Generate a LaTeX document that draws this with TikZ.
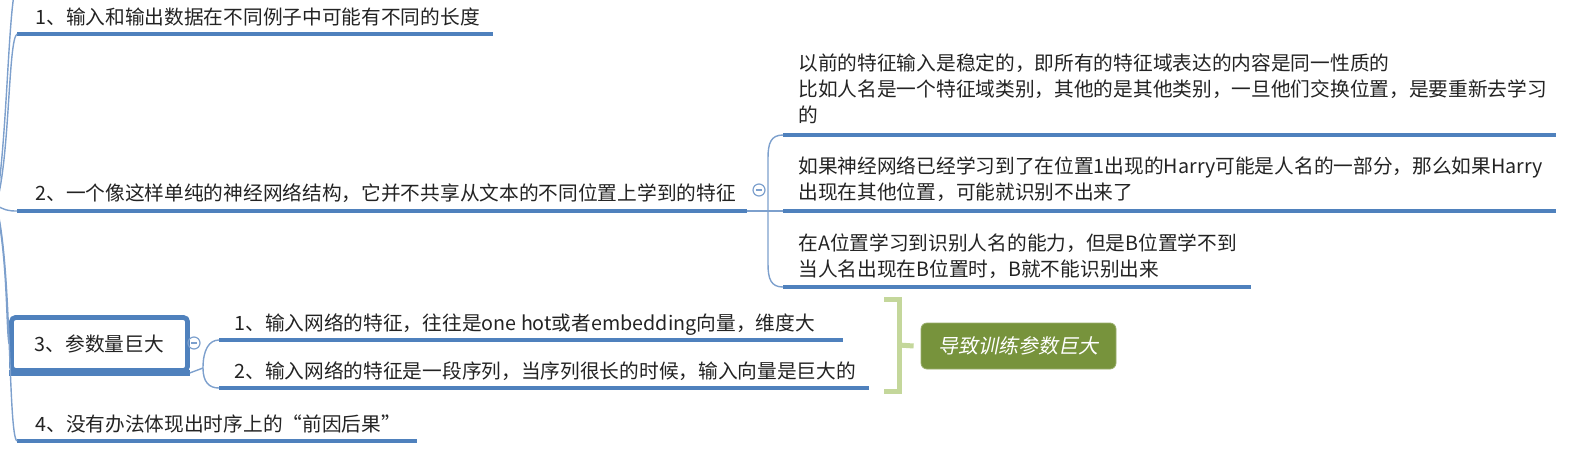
\documentclass[tikz,border=0pt]{standalone}
\usepackage{fontspec}
\setmainfont{Noto Sans CJK SC}
\newfontfamily\slantfont[FakeSlant=0.2]{Noto Sans CJK SC}
\definecolor{lineblue}{RGB}{79,129,189}
\definecolor{linklight}{RGB}{125,160,205}
\definecolor{bracegreen}{RGB}{196,215,155}
\definecolor{boxgreen}{RGB}{119,147,60}
\definecolor{inktext}{RGB}{35,35,35}
\begin{document}
\begin{tikzpicture}[x=0.5pt,y=-0.5pt,
  topic/.style={anchor=west, inner sep=0pt, font=\fontsize{9.85}{13}\selectfont, text=inktext, align=left},
  uline/.style={draw=lineblue, line width=2pt},
  link/.style={draw=linklight, line width=0.7pt},
  brace/.style={draw=bracegreen, line width=2.5pt},
  fold/.style={circle, draw=linklight, line width=0.6pt, minimum size=6pt, inner sep=0pt,
    path picture={\draw[linklight, line width=0.6pt]
      ([xshift=-1.5pt]path picture bounding box.center) -- ([xshift=1.5pt]path picture bounding box.center);}}]
  \useasboundingbox (0,0) rectangle (1584,450);
  \clip (0,0) rectangle (1584,450);

  % main topics
  \node[topic] (t1) at (35,17) {1、输入和输出数据在不同例子中可能有不同的长度};
  \node[topic] (t2) at (35,193) {2、一个像这样单纯的神经网络结构，它并不共享从文本的不同位置上学到的特征};
  \node[draw=lineblue, line width=2.4pt, rounded corners=2pt, minimum width=88pt, minimum height=26.5pt,
    inner sep=0pt, font=\fontsize{9.85}{13}\selectfont, text=inktext] (t3) at (99.5,344) {3、参数量巨大};
  \node[topic] (t4) at (35,424) {4、没有办法体现出时序上的“前因后果”};

  % children of topic 2
  \node[topic] (c1) at (798,89) {以前的特征输入是稳定的，即所有的特征域表达的内容是同一性质的\\
    比如人名是一个特征域类别，其他的是其他类别，一旦他们交换位置，是要重新去学习\\的};
  \node[topic] (c2) at (798,179) {如果神经网络已经学习到了在位置1出现的Harry可能是人名的一部分，那么如果Harry\\
    出现在其他位置，可能就识别不出来了};
  \node[topic] (c3) at (798,256) {在A位置学习到识别人名的能力，但是B位置学不到\\当人名出现在B位置时，B就不能识别出来};

  % children of topic 3
  \node[topic] (s1) at (234,325) {1、输入网络的特征，往往是one hot或者embedding向量，维度大};
  \node[topic] (s2) at (234,371) {2、输入网络的特征是一段序列，当序列很长的时候，输入向量是巨大的};

  % summary
  \node[fill=boxgreen, draw=boxgreen!75!white, rounded corners=3pt, minimum width=97.5pt, minimum height=23pt,
    inner sep=0pt, text=white, font=\slantfont\fontsize{10}{12}\selectfont] (res) at (1018.5,346) {导致训练参数巨大};

  % fold markers
  \node[fold] (f2) at (759,190) {};
  \node[fold] (f3) at (194,343) {};

  % underline ends
  \coordinate (u1a) at (17,34);   \coordinate (u1b) at (493,34);
  \coordinate (u2a) at (17,211);  \coordinate (u2b) at (747,211);
  \coordinate (v1a) at (783,135); \coordinate (v1b) at (1556,135);
  \coordinate (v2a) at (783,211); \coordinate (v2b) at (1556,211);
  \coordinate (v3a) at (783,287); \coordinate (v3b) at (1251,287);
  \coordinate (w1a) at (219,340); \coordinate (w1b) at (843,340);
  \coordinate (w2a) at (219,388); \coordinate (w2b) at (869,388);
  \coordinate (u4a) at (17,441);  \coordinate (u4b) at (417,441);
  \foreach \a/\b in {u1a/u1b,u2a/u2b,v1a/v1b,v2a/v2b,v3a/v3b,w1a/w1b,w2a/w2b,u4a/u4b}
    \draw[uline] (\a) -- (\b);
  \draw[uline, line width=2.8pt] (t3.south west) -- (t3.south east);

  % spine from the root (off the left edge)
  \coordinate (root) at (-4,205);
  \draw[link] (root) .. controls (6,150) and (8,30) .. (14,-5);
  \draw[link] (root) .. controls (10,160) and (8,40) .. (u1a);
  \draw[link] (root) .. controls (4,210) and (8,211) .. (u2a);
  \draw[link] (root) .. controls (8,260) and (6,330) .. (t3.west);
  \draw[link] (root) .. controls (12,260) and (8,436) .. (u4a);

  % fork of topic 2
  \coordinate (fk2) at (768,211);
  \draw[link] (u2b) -- (v2a);
  \draw[link] (v1a) .. controls (771,135) and (768,143) .. (768,158) -- (fk2)
    -- (768,264) .. controls (768,279) and (771,287) .. (v3a);

  % fork of topic 3
  \coordinate (fk3) at (203,368);
  \draw[link] (t3.south east) -- (fk3);
  \draw[link] (w1a) .. controls (209,340) and (203,350) .. (fk3)
    .. controls (203,382) and (209,388) .. (w2a);

  % bracket to summary
  \draw[brace] (884,299) -- (899,299) -- (899,391) -- (884,391);
  \coordinate (brk) at (899,345);
  \draw[brace] (brk) -- ([xshift=-3.5pt]res.west);
\end{tikzpicture}
\end{document}
